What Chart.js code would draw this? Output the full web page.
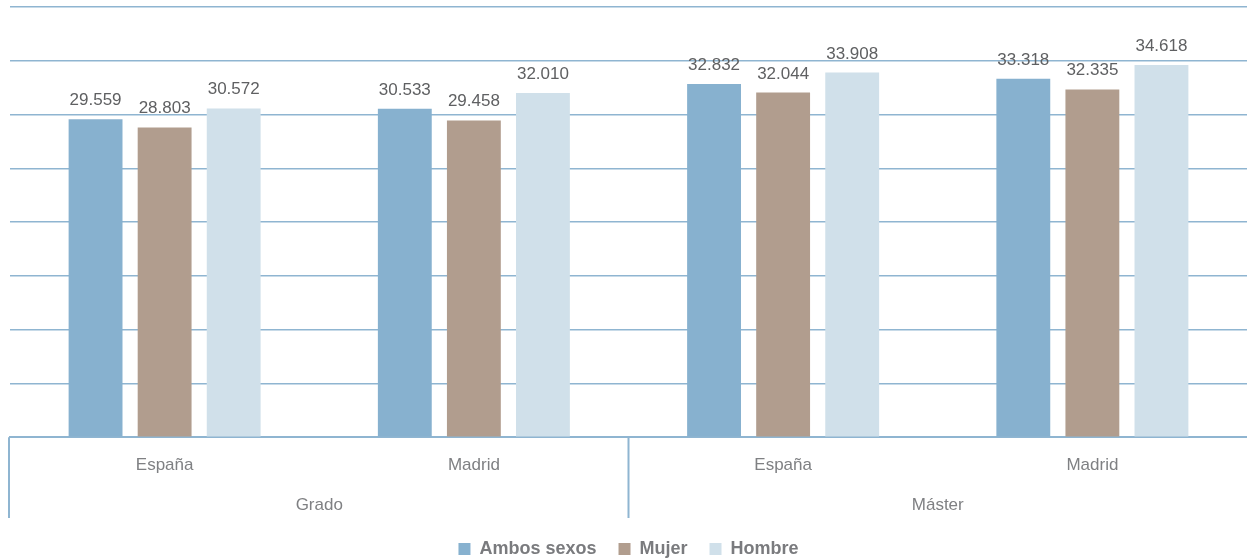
<!DOCTYPE html>
<html>
<head>
<meta charset="utf-8">
<script src="https://cdn.jsdelivr.net/npm/chart.js@4"></script>
<style>
  html, body { margin: 0; padding: 0; background: #fff; }
  #wrap { width: 1247px; height: 560px; position: relative; }
</style>
</head>
<body>
<div id="wrap"><canvas id="chart"></canvas></div>
<script>
const categories = ["España", "Madrid", "España", "Madrid"];
const groups = ["Grado", "Máster"];
const ambosSexos = [29559, 30533, 32832, 33318];
const mujer = [28803, 29458, 32044, 32335];
const hombre = [30572, 32010, 33908, 34618];

const FONT = "'Liberation Sans', Arial, sans-serif";
const GRID = "#8fb5d1";

const fmt = v => v.toLocaleString("es-ES", { useGrouping: "always" });

// value labels above the bars
const barLabels = {
  id: "barLabels",
  afterDatasetsDraw(chart) {
    const ctx = chart.ctx;
    ctx.save();
    ctx.font = "17px " + FONT;
    ctx.fillStyle = "#5f6062";
    ctx.textAlign = "center";
    ctx.textBaseline = "alphabetic";
    chart.data.datasets.forEach((ds, i) => {
      chart.getDatasetMeta(i).data.forEach((bar, j) => {
        ctx.fillText(fmt(ds.data[j]), bar.x, bar.y - 14);
      });
    });
    ctx.restore();
  }
};

// separators between the group labels
const groupLines = {
  id: "groupLines",
  afterDraw(chart) {
    const x2 = chart.scales.x2;
    const x = chart.scales.x;
    const ctx = chart.ctx;
    const mid = (x2.getPixelForValue(0) + x2.getPixelForValue(1)) / 2;
    ctx.save();
    ctx.strokeStyle = GRID;
    ctx.lineWidth = 2;
    ctx.beginPath();
    [x.left - 1, mid].forEach(px => {
      ctx.moveTo(px, x.top);
      ctx.lineTo(px, x2.bottom);
    });
    ctx.stroke();
    ctx.restore();
  }
};

new Chart(document.getElementById("chart"), {
  type: "bar",
  data: {
    labels: categories,
    datasets: [
      { label: "Ambos sexos", data: ambosSexos, backgroundColor: "#87b1cf" },
      { label: "Mujer", data: mujer, backgroundColor: "#b19d8e" },
      { label: "Hombre", data: hombre, backgroundColor: "#d0e0ea" }
    ]
  },
  options: {
    responsive: true,
    maintainAspectRatio: false,
    animation: false,
    categoryPercentage: 0.67,
    barPercentage: 0.78,
    layout: { padding: { left: 10, right: 0, top: 7, bottom: -8 } },
    plugins: {
      legend: {
        position: "bottom",
        labels: {
          boxWidth: 12,
          boxHeight: 12,
          padding: 22,
          color: "#7a7b7e",
          font: { family: FONT, size: 18, weight: "bold" }
        }
      },
      tooltip: { enabled: false }
    },
    scales: {
      x: {
        grid: { display: false, drawTicks: false },
        border: { display: true, color: GRID, width: 2 },
        ticks: { color: "#7f8083", padding: 18, font: { family: FONT, size: 17 } }
      },
      x2: {
        type: "category",
        labels: groups,
        position: "bottom",
        offset: true,
        grid: { display: false, drawTicks: false },
        border: { display: false },
        ticks: { color: "#7f8083", padding: 2, font: { family: FONT, size: 17 } }
      },
      y: {
        min: 0,
        max: 40000,
        ticks: { stepSize: 5000, display: false },
        border: { display: false },
        grid: { color: GRID, lineWidth: 1.5, drawTicks: false }
      }
    }
  },
  plugins: [barLabels, groupLines]
});
</script>
</body>
</html>
